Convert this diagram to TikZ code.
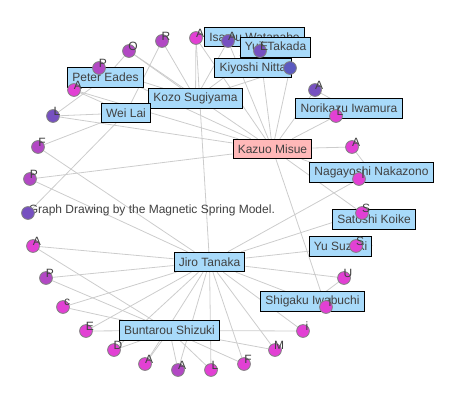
\documentclass[tikz,border=0pt]{standalone}
\usepackage{fontspec}
\setmainfont{Liberation Sans}
\usetikzlibrary{positioning,backgrounds}

\definecolor{boxblue}{RGB}{168,218,250}
\definecolor{boxpink}{RGB}{255,184,184}
\definecolor{txtgray}{RGB}{64,64,64}
\definecolor{edgegray}{RGB}{204,204,204}
\definecolor{pmag}{RGB}{226,64,212}
\definecolor{ppur}{RGB}{178,72,196}
\definecolor{pvio}{RGB}{118,80,192}
\definecolor{pblu}{RGB}{92,90,192}

\begin{document}
\begin{tikzpicture}[
        x=0.75pt, y=-0.75pt,
        author/.style={rectangle, draw=black, line width=0.75pt, fill=boxblue, text=txtgray, font=\fontsize{9}{11}\selectfont, inner xsep=3.6pt, inner ysep=0pt, minimum height=14.5pt},
        paper/.style={circle, draw=gray, line width=0.6pt, minimum size=9.6pt, inner sep=0pt},
        tag/.style={inner sep=0pt, xshift=3pt, yshift=3.6pt, text=txtgray, font=\fontsize{9}{11}\selectfont},
        caption/.style={anchor=base west, inner sep=0pt, text=txtgray, font=\fontsize{9}{11}\selectfont},
        edge/.style={draw=edgegray, line width=0.6pt}
    ]
    \useasboundingbox (0,0) rectangle (460,400);

    % authors
    \node[author] (watanabe) at (254.5,37) {Isamu Watanabe};
    \node[author] (takada) at (275.5,47.5) {Yuji Takada};
    \node[author] (nitta) at (253,68) {Kiyoshi Nitta};
    \node[author] (eades) at (105.5,77.5) {Peter Eades};
    \node[author] (sugiyama) at (195.5,98.5) {Kozo Sugiyama};
    \node[author] (lai) at (126,113) {Wei Lai};
    \node[author] (iwamura) at (349,108.5) {Norikazu Iwamura};
    \node[author, fill=boxpink] (misue) at (272.5,149) {Kazuo Misue};
    \node[author] (nakazono) at (371.5,172.5) {Nagayoshi Nakazono};
    \node[author] (koike) at (374,219.5) {Satoshi Koike};
    \node[author] (suzuki) at (340.5,246.5) {Yu Suzuki};
    \node[author] (tanaka) at (209.5,262) {Jiro Tanaka};
    \node[author] (iwabuchi) at (312.5,301.5) {Shigaku Iwabuchi};
    \node[author] (shizuki) at (169.5,330.5) {Buntarou Shizuki};

    \node[caption] (title) at (28.5,213) {Graph Drawing by the Magnetic Spring Model.};

    % papers
    \node[paper, fill=ppur, label={[tag]center:R}] (p1) at (162,41) {};
    \node[paper, fill=ppur, label={[tag]center:O}] (p2) at (129,51) {};
    \node[paper, fill=ppur, label={[tag]center:P}] (p3) at (99,68) {};
    \node[paper, fill=pmag, label={[tag]center:A}] (p4) at (74,90) {};
    \node[paper, fill=pvio, label={[tag]center:L}] (p5) at (53,116) {};
    \node[paper, fill=ppur, label={[tag]center:F}] (p6) at (38,147) {};
    \node[paper, fill=ppur, label={[tag]center:P}] (p7) at (30,179) {};
    \node[paper, fill=pvio] (p8) at (28,213) {};
    \node[paper, fill=pmag, label={[tag]center:A}] (p9) at (33,246) {};
    \node[paper, fill=ppur, label={[tag]center:P}] (p10) at (46,278) {};
    \node[paper, fill=pmag, label={[tag]center:c}] (p11) at (63,307) {};
    \node[paper, fill=pmag, label={[tag]center:E}] (p12) at (86,331) {};
    \node[paper, fill=pmag, label={[tag]center:D}] (p13) at (114,350) {};
    \node[paper, fill=pmag, label={[tag]center:A}] (p14) at (145,364) {};
    \node[paper, fill=ppur, label={[tag]center:A}] (p15) at (178,370) {};
    \node[paper, fill=pmag, label={[tag]center:L}] (p16) at (211,370) {};
    \node[paper, fill=pmag, label={[tag]center:F}] (p17) at (244,364) {};
    \node[paper, fill=pmag, label={[tag]center:M}] (p18) at (275,350) {};
    \node[paper, fill=pmag, label={[tag]center:i}] (p19) at (303,331) {};
    \node[paper, fill=pmag, label={[tag]center:I}] (p20) at (326,307) {};
    \node[paper, fill=pmag, label={[tag]center:U}] (p21) at (344,278) {};
    \node[paper, fill=pmag, label={[tag]center:S}] (p22) at (356,246) {};
    \node[paper, fill=pmag, label={[tag]center:S}] (p23) at (362,213) {};
    \node[paper, fill=pmag, label={[tag]center:I}] (p24) at (359,179) {};
    \node[paper, fill=pmag, label={[tag]center:A}] (p25) at (352,147) {};
    \node[paper, fill=pmag, label={[tag]center:L}] (p26) at (336,116) {};
    \node[paper, fill=pvio, label={[tag]center:A}] (p27) at (315,90) {};
    \node[paper, fill=pblu] (p28) at (290,68) {};
    \node[paper, fill=pvio, label={[tag]center:E}] (p29) at (260,51) {};
    \node[paper, fill=pvio, label={[tag]center:A}] (p30) at (228,41) {};
    \node[paper, fill=pmag, label={[tag]center:A}] (p31) at (196,38) {};

    \begin{scope}[on background layer]
    \foreach \p in {p2,p3,p4,p5,p7,p20,p23,p24,p25,p26,p27,p28,p29,p30,p31}
        \draw[edge] (misue) -- (\p);
    \foreach \p in {p6,p7,p9,p10,p11,p12,p13,p14,p15,p16,p17,p18,p19,p20,p21,p22,p23,p24,p31}
        \draw[edge] (tanaka) -- (\p);
    \foreach \p in {p9,p10,p11,p12,p13,p14,p15,p16,p17,p18,p19}
        \draw[edge] (shizuki) -- (\p);
    \foreach \p in {p1,p2,p3,p28,p29,p30,p31}
        \draw[edge] (sugiyama) -- (\p);
    \foreach \p in {p1,p4,p5,p6,p8}
        \draw[edge] (lai) -- (\p);
    \foreach \p in {p2,p3,p4,p5}
        \draw[edge] (eades) -- (\p);
    \draw[edge] (watanabe) -- (p30);
    \draw[edge] (watanabe) -- (p29);
    \draw[edge] (takada) -- (p29);
    \draw[edge] (nitta) -- (p28);
    \draw[edge] (iwamura) -- (p26);
    \draw[edge] (iwamura) -- (p27);
    \draw[edge] (nakazono) -- (p24);
    \draw[edge] (nakazono) -- (p25);
    \draw[edge] (koike) -- (p23);
    \draw[edge] (suzuki) -- (p22);
    \draw[edge] (iwabuchi) -- (p20);
    \draw[edge] (iwabuchi) -- (p21);
    \end{scope}

\end{tikzpicture}
\end{document}
